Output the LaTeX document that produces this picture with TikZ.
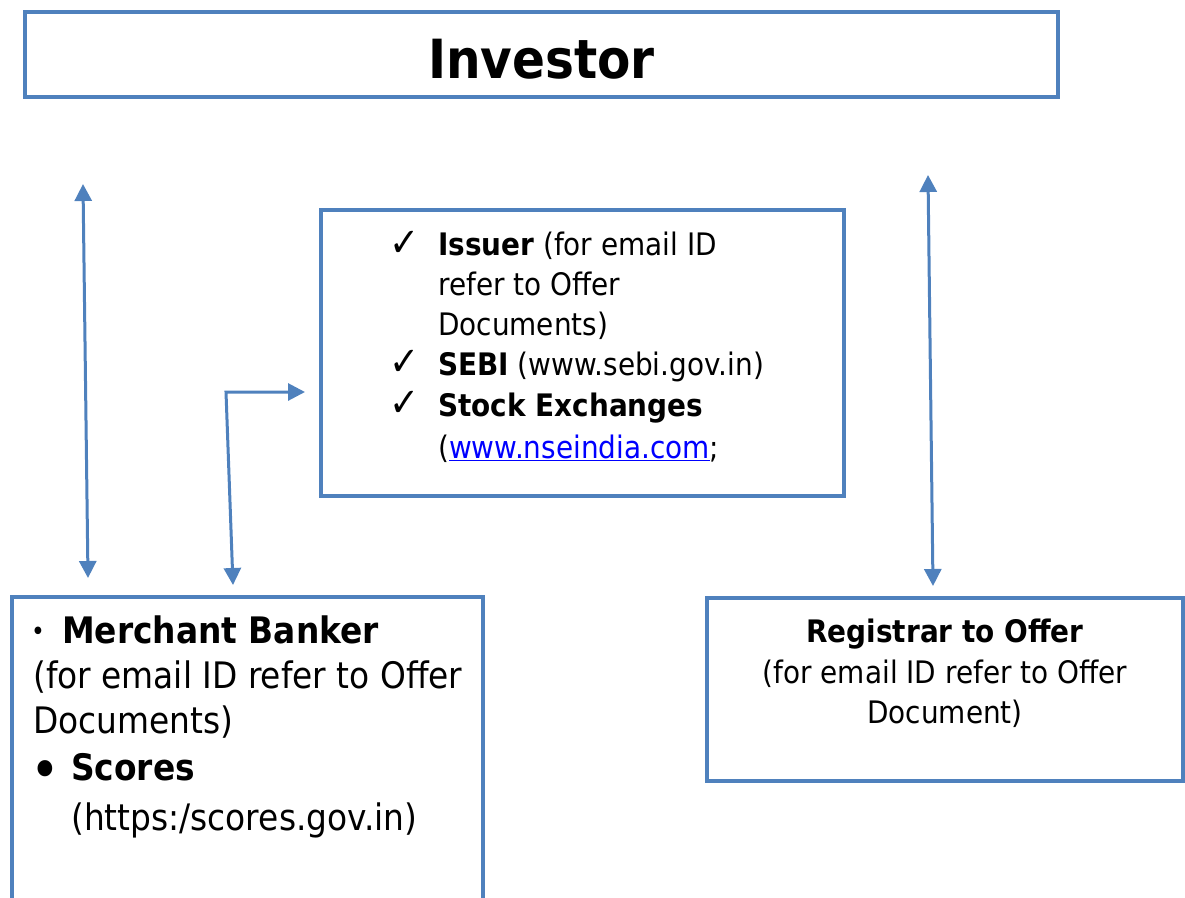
\documentclass[tikz,border=0pt]{standalone}
\usepackage{fontspec}
\setmainfont{DejaVu Sans}[FakeStretch=0.9]
\usetikzlibrary{arrows.meta}
\definecolor{bord}{HTML}{4F81BD}
\definecolor{linkblue}{HTML}{0000FF}
\begin{document}
\begin{tikzpicture}[x=1pt,y=-1pt,
  box/.style={draw=bord, line width=4.5pt, inner sep=0pt, outer sep=0pt},
  conn/.style={draw=bord, line width=3pt, {Triangle[length=17pt,width=17pt]}-{Triangle[length=17pt,width=17pt]}},
  elbow/.style={draw=bord, line width=3pt, {Triangle[length=17pt,width=17pt]}-{Triangle[length=17pt,width=17pt]}},
  txt/.style={inner sep=0pt, anchor=base west},
  ctxt/.style={inner sep=0pt, anchor=base},
  checkfont/.style={font=\fontsize{40}{44}\selectfont},
  midfont/.style={font=\fontsize{31}{38}\selectfont},
  leftfont/.style={font=\fontsize{36.5}{44}\selectfont},
  rightfont/.style={font=\fontsize{31}{38}\selectfont},
]
\useasboundingbox (0,0) rectangle (1185,897);
\clip (0,0) rectangle (1185,897);
% boxes
\node[box, minimum width=1033pt, minimum height=85pt] (investor) at (541.5,54.5) {};
\node[ctxt, font=\bfseries\fontsize{54}{60}\selectfont] (invtext) at (541.5,78) {Investor};
\node[box, minimum width=523pt, minimum height=286pt] (mid) at (582.5,353) {};
\node[box, minimum width=471pt, minimum height=330pt] (left) at (247.5,762) {};
\node[box, minimum width=476pt, minimum height=183pt] (right) at (945,689.5) {};
% middle box text
\node[txt, checkfont] (k1) at (389,256) {✓};
\node[txt, checkfont] (k2) at (389,375) {✓};
\node[txt, checkfont] (k3) at (389,416) {✓};
\node[txt, midfont] (m1) at (438,255) {\textbf{Issuer} (for email ID};
\node[txt, midfont] (m2) at (438,295) {refer to Offer};
\node[txt, midfont] (m3) at (438,335) {Documents)};
\node[txt, midfont] (m4) at (438,375) {\textbf{SEBI} (www.sebi.gov.in)};
\node[txt, midfont] (m5) at (438,416) {\textbf{Stock Exchanges}};
\node[txt, midfont] (m6) at (438,458) {({\color{linkblue}\underline{www.nseindia.com}};};
% left box text
\node[txt, font=\fontsize{26}{30}\selectfont] (b1) at (31,640) {•};
\node[txt, leftfont] (l1) at (62,643) {\textbf{Merchant Banker}};
\node[txt, leftfont] (l2) at (33,688) {(for email ID refer to Offer};
\node[txt, leftfont] (l3) at (33,733) {Documents)};
\node[txt, font=\fontsize{56}{60}\selectfont] (b2) at (30,789) {•};
\node[txt, leftfont] (l4) at (71,780) {\textbf{Scores}};
\node[txt, leftfont] (l5) at (71,830) {(https:/scores.gov.in)};
% right box text
\node[ctxt, rightfont] (r1) at (945,642) {\textbf{Registrar to Offer}};
\node[ctxt, rightfont] (r2) at (945,683) {(for email ID refer to Offer};
\node[ctxt, rightfont] (r3) at (945,723) {Document)};
% connectors
\coordinate (la) at (83,184);
\coordinate (lb) at (88,578);
\draw[conn] (la) -- (lb);
\coordinate (ea) at (233,585);
\coordinate (ec) at (226,392);
\coordinate (eb) at (305,392);
\draw[elbow] (ea) -- (ec) -- (eb);
\coordinate (ra) at (928,175);
\coordinate (rb) at (933,586);
\draw[conn] (ra) -- (rb);
\end{tikzpicture}
\end{document}
